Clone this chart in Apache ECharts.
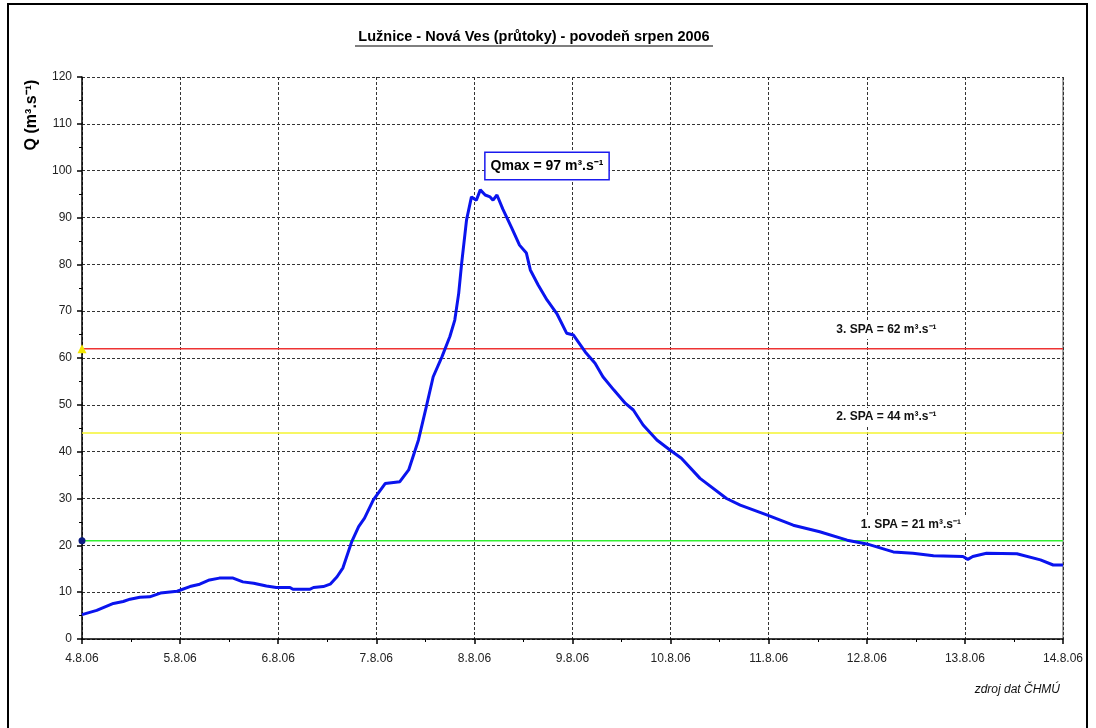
<!DOCTYPE html>
<html lang="en">
<head>
<meta charset="utf-8">
<title>Lužnice - Nová Ves</title>
<script src="https://cdn.jsdelivr.net/npm/echarts@6/dist/echarts.min.js"></script>
<style>
  html, body { margin: 0; padding: 0; background: #fff; }
  #chart { width: 1096px; height: 728px; }
</style>
</head>
<body>
<div id="chart"></div>
<script>
const days = [0, 0.15, 0.32, 0.42, 0.49, 0.59, 0.69, 0.80, 0.97, 1.10, 1.20, 1.30, 1.40, 1.54, 1.64, 1.75, 1.88, 1.98,
  2.12, 2.15, 2.32, 2.36, 2.46, 2.53, 2.60, 2.66, 2.75, 2.82, 2.88, 2.97, 3.09, 3.24, 3.33, 3.43, 3.51, 3.58, 3.67,
  3.75, 3.80, 3.84, 3.87, 3.92, 3.97, 4.02, 4.06, 4.11, 4.16, 4.19, 4.23, 4.29, 4.38, 4.46, 4.53, 4.57, 4.65, 4.74,
  4.84, 4.94, 5.01, 5.13, 5.23, 5.31, 5.42, 5.54, 5.62, 5.72, 5.86, 5.99, 6.11, 6.30, 6.57, 6.71, 6.98, 7.25, 7.52,
  7.80, 8.00, 8.27, 8.47, 8.68, 8.98, 9.03, 9.08, 9.22, 9.53, 9.77, 9.90, 10.0];
const flow = [5.2, 6.1, 7.6, 8.0, 8.5, 8.9, 9.0, 9.8, 10.2, 11.2, 11.7, 12.6, 13.0, 13.0, 12.2, 11.9, 11.3, 11.0,
  11.0, 10.6, 10.6, 11.0, 11.2, 11.7, 13.3, 15.2, 20.8, 24.0, 25.8, 29.7, 33.2, 33.6, 36.1, 42.5, 49.6, 56.0, 60.3,
  64.6, 68.1, 73.8, 80.2, 89.5, 94.4, 93.7, 95.9, 94.8, 94.4, 93.7, 94.8, 91.8, 87.8, 84.1, 82.4, 78.8, 75.6, 72.4,
  69.5, 65.3, 64.9, 61.3, 58.9, 56.0, 53.2, 50.3, 48.9, 45.7, 42.5, 40.4, 38.6, 34.3, 30.0, 28.6, 26.5, 24.3, 22.9,
  21.1, 20.3, 18.6, 18.3, 17.8, 17.6, 17.0, 17.6, 18.3, 18.2, 16.9, 15.8, 15.8];

const dateLabels = ['4.8.06', '5.8.06', '6.8.06', '7.8.06', '8.8.06', '9.8.06', '10.8.06', '11.8.06', '12.8.06', '13.8.06', '14.8.06'];

// flood activity levels (SPA)
const spaNames = ['1. SPA = 21 m³.s⁻¹', '2. SPA = 44 m³.s⁻¹', '3. SPA = 62 m³.s⁻¹'];
const spaValues = [21, 44, 62];
const spaLabelPos = [[8.45, 24.5], [8.2, 47.4], [8.2, 66]];

const qmaxText = 'Qmax = 97 m³.s⁻¹';
const qmaxPos = [4.74, 101];

const font = '"Liberation Sans", Arial, sans-serif';
const gridDash = { color: '#333', width: 1, type: [3, 2] };

let chart = echarts.init(document.getElementById('chart'));

function spaSeries(i, color, startSymbol) {
  let first = { value: [0, spaValues[i]] };
  if (startSymbol) {
    first.symbol = startSymbol.symbol;
    first.symbolSize = startSymbol.size;
    first.itemStyle = { color: startSymbol.color };
  }
  return {
    type: 'line',
    data: [first, { value: [10, spaValues[i]], symbol: 'none' }],
    symbol: 'none',
    showSymbol: true,
    lineStyle: { color: color, width: 1.5 },
    silent: true,
    z: 3,
    markPoint: {
      symbol: 'rect',
      symbolSize: 0,
      data: [{ coord: spaLabelPos[i] }],
      label: {
        show: true,
        formatter: spaNames[i],
        fontFamily: font,
        fontWeight: 'bold',
        fontSize: 12,
        color: '#111',
        backgroundColor: '#fff',
        padding: [3, 6]
      }
    }
  };
}

let option = {
  animation: false,
  backgroundColor: '#fff',
  textStyle: { fontFamily: font },
  grid: { left: 82, right: 33, top: 77, bottom: 89, containLabel: false },
  xAxis: {
    type: 'value',
    min: 0,
    max: 10,
    interval: 1,
    axisLine: { lineStyle: { color: '#000', width: 1.5 } },
    axisTick: { lineStyle: { color: '#000', width: 1.5 }, length: 5 },
    minorTick: { show: true, splitNumber: 2, length: 3, lineStyle: { color: '#000' } },
    axisLabel: {
      color: '#222',
      fontSize: 12,
      margin: 14,
      formatter: function (v) { return dateLabels[Math.round(v)]; }
    },
    splitLine: { show: true, lineStyle: gridDash }
  },
  yAxis: {
    type: 'value',
    min: 0,
    max: 120,
    interval: 10,
    axisLine: { show: true, lineStyle: { color: '#000', width: 1.5 } },
    axisTick: { show: true, lineStyle: { color: '#000', width: 1.5 }, length: 5 },
    minorTick: { show: true, splitNumber: 2, length: 3, lineStyle: { color: '#000' } },
    axisLabel: { color: '#222', fontSize: 12, margin: 10 },
    splitLine: { show: true, lineStyle: gridDash }
  },
  graphic: [
    { type: 'rect', shape: { x: 8, y: 4, width: 1079, height: 740 }, style: { fill: null, stroke: '#000', lineWidth: 2 }, silent: true },
    { type: 'text', x: 534, y: 37, style: { text: 'Lužnice - Nová Ves (průtoky) - povodeň srpen 2006', font: 'bold 14.5px ' + font, fill: '#000', textAlign: 'center', textVerticalAlign: 'middle' } },
    { type: 'line', shape: { x1: 355, y1: 46, x2: 713, y2: 46 }, style: { stroke: '#000', lineWidth: 1.2 } },
    { type: 'text', x: 32, y: 115, rotation: Math.PI / 2, style: { text: 'Q (m³.s⁻¹)', font: 'bold 16px ' + font, fill: '#000', textAlign: 'center', textVerticalAlign: 'middle' } },
    { type: 'text', x: 1060, y: 690, style: { text: 'zdroj dat ČHMÚ', font: 'italic 12px ' + font, fill: '#111', textAlign: 'right', textVerticalAlign: 'middle' } },
    { type: 'line', shape: { x1: 1063, y1: 77, x2: 1063, y2: 639 }, style: { stroke: '#888', lineWidth: 1.5 } }
  ],
  series: [
    spaSeries(0, '#33ee33', { symbol: 'circle', size: 7, color: '#0a1a80' }),
    spaSeries(1, '#f5f530', null),
    spaSeries(2, '#ee3333', { symbol: 'triangle', size: 9, color: '#f2e600' }),
    {
      type: 'line',
      name: 'Q',
      data: days.map(function (d, i) { return [d, flow[i]]; }),
      symbol: 'none',
      lineStyle: { color: '#0a14ee', width: 3 },
      z: 5,
      markPoint: {
        symbolSize: 0,
        data: [{ coord: qmaxPos }],
        label: {
          show: true,
          formatter: qmaxText,
          fontFamily: font,
          fontWeight: 'bold',
          fontSize: 14,
          color: '#000',
          backgroundColor: '#fff',
          borderColor: '#1a1aee',
          borderWidth: 1.5,
          padding: [6, 5]
        }
      }
    }
  ]
};

chart.setOption(option);
</script>
</body>
</html>
